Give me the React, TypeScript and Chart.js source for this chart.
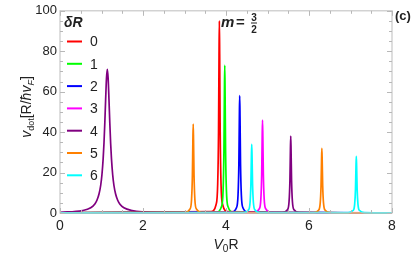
import React, { useEffect, useRef } from "react";
import { Chart, registerables } from "chart.js";

Chart.register(...registerables);

// ---- data ----
const seriesLabels = ["0", "1", "2", "3", "4", "5", "6"];
const seriesColors = ["#ff0000", "#00ff00", "#0000ff", "#ff00ff", "#800080", "#ff8000", "#00ffff"];

const dR0: [number, number][] = [
  [0, 0.05], [3.64, 0.7], [3.76, 4.1], [3.8, 14.5], [3.82, 40], [3.832, 78], [3.84, 95],
  [3.848, 78], [3.86, 40], [3.88, 14.5], [3.92, 4.1], [4.04, 0.7], [8, 0.05],
];
const dR1: [number, number][] = [
  [0, 0.05], [3.77, 0.5], [3.89, 3.1], [3.93, 11.2], [3.95, 30.7], [3.962, 60], [3.97, 73],
  [3.978, 60], [3.99, 30.7], [4.01, 11.2], [4.05, 3.1], [4.17, 0.5], [8, 0.05],
];
const dR2: [number, number][] = [
  [0, 0.05], [4.13, 0.4], [4.25, 2.5], [4.29, 8.9], [4.31, 24.4], [4.322, 47.6], [4.33, 58],
  [4.338, 47.6], [4.35, 24.4], [4.37, 8.9], [4.41, 2.5], [4.53, 0.4], [8, 0.05],
];
const dR3: [number, number][] = [
  [0, 0.05], [4.68, 0.3], [4.8, 2.0], [4.84, 7.0], [4.86, 19.3], [4.872, 37.7], [4.88, 46],
  [4.888, 37.7], [4.9, 19.3], [4.92, 7.0], [4.96, 2.0], [5.08, 0.3], [8, 0.05],
];
const dR4: [number, number][] = [
  [0, 0.33], [0.54, 1.2], [0.74, 2.6], [0.84, 4.5], [0.89, 6.3], [0.94, 9.4], [0.98, 13.6],
  [1.01, 18.8], [1.04, 26.9], [1.06, 34.6], [1.08, 44.6], [1.1, 56.2], [1.12, 66.6], [1.14, 71],
  [1.16, 66.6], [1.18, 56.2], [1.2, 44.6], [1.22, 34.6], [1.24, 26.9], [1.27, 18.8], [1.3, 13.6],
  [1.34, 9.4], [1.39, 6.3], [1.44, 4.5], [1.54, 2.6], [1.74, 1.2], [2.0, 0.58], [3.0, 0.12],
  [5.36, 0.3], [5.48, 1.6], [5.52, 5.8], [5.54, 16], [5.552, 31], [5.56, 38], [5.568, 31],
  [5.58, 16], [5.6, 5.8], [5.64, 1.6], [5.76, 0.3], [8, 0.05],
];
const dR5: [number, number][] = [
  [0, 0.05], [3.01, 0.3], [3.13, 1.9], [3.17, 6.7], [3.19, 18.5], [3.202, 36], [3.21, 44],
  [3.218, 36], [3.23, 18.5], [3.25, 6.7], [3.29, 1.9], [3.41, 0.3],
  [6.11, 0.2], [6.23, 1.4], [6.27, 4.9], [6.29, 13.4], [6.302, 26], [6.31, 32], [6.318, 26],
  [6.33, 13.4], [6.35, 4.9], [6.39, 1.4], [6.51, 0.2], [8, 0.05],
];
const dR6: [number, number][] = [
  [0, 0.05], [4.42, 0.2], [4.54, 1.5], [4.58, 5.2], [4.6, 14.3], [4.612, 28], [4.62, 34],
  [4.628, 28], [4.64, 14.3], [4.66, 5.2], [4.7, 1.5], [4.82, 0.2],
  [6.94, 0.2], [7.06, 1.2], [7.1, 4.3], [7.12, 11.8], [7.132, 23], [7.14, 28], [7.148, 23],
  [7.16, 11.8], [7.18, 4.3], [7.22, 1.2], [7.34, 0.2], [8, 0.05],
];
const allSeries = [dR0, dR1, dR2, dR3, dR4, dR5, dR6];

const xMajorTicks = [0, 2, 4, 6, 8];
const xMinorTicks = [0.5, 1, 1.5, 2.5, 3, 3.5, 4.5, 5, 5.5, 6.5, 7, 7.5];
const yMajorTicks = [0, 20, 40, 60, 80, 100];
const yMinorTicks = [5, 10, 15, 25, 30, 35, 45, 50, 55, 65, 70, 75, 85, 90, 95];

const FONT = "'Liberation Sans', Arial, sans-serif";
const TEXT = "#222";

type Run = { t: string; font: string; dy: number };

function drawRuns(ctx: CanvasRenderingContext2D, runs: Run[], cx: number, cy: number) {
  let total = 0;
  for (const r of runs) {
    ctx.font = r.font;
    total += ctx.measureText(r.t).width;
  }
  let x = cx - total / 2;
  ctx.textBaseline = "alphabetic";
  ctx.textAlign = "left";
  for (const r of runs) {
    ctx.font = r.font;
    ctx.fillText(r.t, x, cy + r.dy);
    x += ctx.measureText(r.t).width;
  }
}

const decorPlugin = {
  id: "decor",
  afterDatasetsDraw(chart: any) {
    const ctx: CanvasRenderingContext2D = chart.ctx;
    const { left, right, top, bottom } = chart.chartArea;
    const xs = chart.scales.x;
    const ys = chart.scales.y;
    ctx.save();
    // frame
    ctx.strokeStyle = "#c8c8c8";
    ctx.lineWidth = 1.2;
    ctx.strokeRect(left, top, right - left, bottom - top);
    // ticks
    ctx.strokeStyle = "#b8b8b8";
    ctx.lineWidth = 1;
    const tick = (x1: number, y1: number, x2: number, y2: number) => {
      ctx.beginPath();
      ctx.moveTo(x1, y1);
      ctx.lineTo(x2, y2);
      ctx.stroke();
    };
    for (const v of xMajorTicks) {
      const px = Math.round(xs.getPixelForValue(v)) + 0.5;
      tick(px, bottom, px, bottom - 5);
      tick(px, top, px, top + 5);
    }
    for (const v of xMinorTicks) {
      const px = Math.round(xs.getPixelForValue(v)) + 0.5;
      tick(px, bottom, px, bottom - 3);
      tick(px, top, px, top + 3);
    }
    for (const v of yMajorTicks) {
      const py = Math.round(ys.getPixelForValue(v)) + 0.5;
      tick(left, py, left + 5, py);
      tick(right, py, right - 5, py);
    }
    for (const v of yMinorTicks) {
      const py = Math.round(ys.getPixelForValue(v)) + 0.5;
      tick(left, py, left + 3, py);
      tick(right, py, right - 3, py);
    }

    ctx.fillStyle = TEXT;
    // legend
    ctx.font = `italic bold 14px ${FONT}`;
    ctx.textBaseline = "middle";
    ctx.textAlign = "left";
    ctx.fillText("δR", 64, 23);
    seriesLabels.forEach((lab, i) => {
      const y = 41.5 + 22.3 * i;
      ctx.strokeStyle = seriesColors[i];
      ctx.lineWidth = 2;
      ctx.beginPath();
      ctx.moveTo(67, y);
      ctx.lineTo(82, y);
      ctx.stroke();
      ctx.fillStyle = TEXT;
      ctx.font = `14px ${FONT}`;
      ctx.textBaseline = "middle";
      ctx.textAlign = "left";
      ctx.fillText(lab, 90, y + 1);
    });

    // m = 3/2
    ctx.fillStyle = TEXT;
    ctx.textBaseline = "alphabetic";
    ctx.textAlign = "left";
    ctx.font = `italic bold 15px ${FONT}`;
    ctx.fillText("m", 221, 27);
    ctx.font = `bold 15px ${FONT}`;
    ctx.fillText("=", 236, 27);
    ctx.font = `bold 10px ${FONT}`;
    ctx.textAlign = "center";
    ctx.fillText("3", 254, 21);
    ctx.fillText("2", 254, 33);
    ctx.fillRect(251, 22.5, 6, 1);

    // (c)
    ctx.font = `bold 13px ${FONT}`;
    ctx.textAlign = "left";
    ctx.fillText("(c)", 395, 20);

    // x axis title
    drawRuns(
      ctx,
      [
        { t: "V", font: `italic 14px ${FONT}`, dy: 0 },
        { t: "0", font: `10px ${FONT}`, dy: 3 },
        { t: "R", font: `14px ${FONT}`, dy: 0 },
      ],
      226,
      249
    );

    // y axis title
    ctx.save();
    ctx.translate(31, 107);
    ctx.rotate(-Math.PI / 2);
    drawRuns(
      ctx,
      [
        { t: "v", font: `italic 14px ${FONT}`, dy: 0 },
        { t: "dot", font: `9px ${FONT}`, dy: 3 },
        { t: "[R/", font: `14px ${FONT}`, dy: 0 },
        { t: "ħ", font: `italic 14px ${FONT}`, dy: 0 },
        { t: "v", font: `italic 14px ${FONT}`, dy: 0 },
        { t: "F", font: `italic 9px ${FONT}`, dy: 3 },
        { t: "]", font: `14px ${FONT}`, dy: 0 },
      ],
      0,
      0
    );
    ctx.restore();
    ctx.restore();
  },
};

export default function App() {
  const ref = useRef<HTMLCanvasElement | null>(null);
  useEffect(() => {
    if (!ref.current) return;
    const chart = new Chart(ref.current, {
      type: "line",
      data: {
        datasets: allSeries.map((s, i) => ({
          label: seriesLabels[i],
          data: s.map(([x, y]) => ({ x, y })),
          borderColor: seriesColors[i],
          backgroundColor: seriesColors[i],
          borderWidth: 1.7,
          pointRadius: 0,
          cubicInterpolationMode: "monotone" as const,
          fill: false,
          clip: 4,
          order: 6 - i,
        })),
      },
      options: {
        animation: false,
        responsive: false,
        layout: { padding: { left: 0, right: 23, top: 7, bottom: 0 } },
        plugins: { legend: { display: false }, tooltip: { enabled: false } },
        scales: {
          x: {
            type: "linear",
            min: 0,
            max: 8,
            grid: { display: false, drawTicks: false },
            border: { display: false },
            ticks: {
              stepSize: 2,
              padding: 5,
              color: TEXT,
              font: { family: FONT, size: 14 },
              maxRotation: 0,
            },
            afterFit: (s: any) => {
              s.height = 42;
            },
          },
          y: {
            type: "linear",
            min: 0,
            max: 100,
            grid: { display: false, drawTicks: false },
            border: { display: false },
            ticks: {
              stepSize: 20,
              padding: 3,
              color: TEXT,
              font: { family: FONT, size: 13 },
            },
            afterFit: (s: any) => {
              s.width = 60;
            },
          },
        },
      },
      plugins: [decorPlugin],
    });
    return () => chart.destroy();
  }, []);
  return (
    <div style={{ position: "absolute", left: 0, top: 0, width: 415, height: 255 }}>
      <canvas ref={ref} width={415} height={255} />
    </div>
  );
}
